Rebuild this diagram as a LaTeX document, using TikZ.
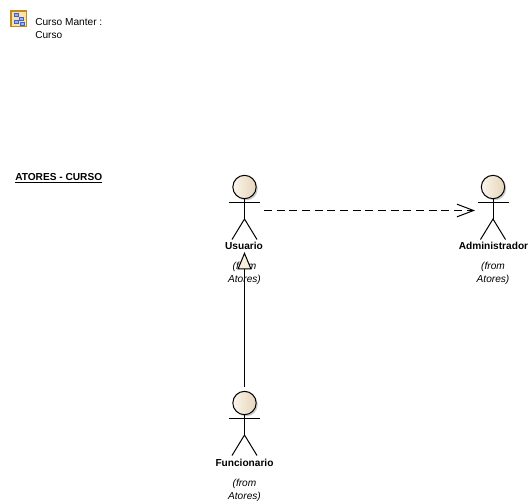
\documentclass[tikz,border=0pt]{standalone}
\usepackage{fontspec}
\setmainfont{Liberation Sans}
\usetikzlibrary{calc,positioning,arrows.meta,shadows}
\definecolor{headfill}{HTML}{F7EEDF}
\definecolor{headedge}{HTML}{E6D5BA}
\definecolor{iconfill}{HTML}{FBE3A8}
\definecolor{iconedge}{HTML}{C08A1E}
\definecolor{iconblue}{HTML}{3A62D8}

\begin{document}
\begin{tikzpicture}[
            x=0.75pt,y=-0.75pt,
            every node/.append style={black,font=\fontsize{7.6}{9.75}\selectfont},
            limb/.style={black,line width=0.75pt},
            head/.style={circle,draw=black,line width=0.75pt,minimum size=17.5pt,inner sep=0pt,
                left color=headfill!60!white,right color=headedge,
                drop shadow={shadow xshift=1.2pt,shadow yshift=-1.2pt,opacity=0.35,fill=black!60}},
            actorname/.style={font=\fontsize{7.6}{9.75}\selectfont\bfseries},
            fromline/.style={font=\fontsize{7.6}{9.75}\selectfont\itshape},
            iconbit/.style={draw=iconblue,fill=iconblue!50!white,line width=0.4pt}
        ]
            \useasboundingbox (0,0) rectangle (531,500);

            % package icon and its title
            \node[draw=iconedge,fill=iconfill,line width=1pt,minimum size=11.5pt,inner sep=0pt] (icon) at (18.5,18.5) {};
            \draw[iconbit] (14,13) rectangle (18,16);
            \draw[iconbit] (19,17) rectangle (23,20);
            \draw[iconbit] (14,20) rectangle (18,23);
            \draw[iconbit] (20,22) rectangle (24,25);
            \node[anchor=west,align=left,inner sep=0pt] (title) at (35,28.5) {Curso Manter :\\Curso};

            \node[anchor=west,inner sep=0pt,font=\fontsize{7.6}{9.75}\selectfont\bfseries] (diagram) at (15,178.5) {\underline{ATORES - CURSO}};

            % the three actors
            \foreach \who/\cx/\cy in {usuario/244.5/187, administrador/493/187, funcionario/244.5/403}{
                \node[head] (\who) at (\cx,\cy) {};
                \coordinate (\who neck) at (\cx,\cy+11);
                \coordinate (\who hip) at (\cx,\cy+32);
                \draw[limb] (\who neck) -- (\who hip);
                \draw[limb] (\cx-15.5,\cy+15.5) -- (\cx+15.5,\cy+15.5);
                \draw[limb] (\cx-12.5,\cy+52.5) -- (\who hip) -- (\cx+12.5,\cy+52.5);
            }

            \node[actorname] (usuarioname) at (244,245.5) {Usuario};
            \node[fromline,align=center] (usuariofrom) at (244.5,273) {(from\\Atores)};
            \node[actorname] (administradorname) at (493.5,245.5) {Administrador};
            \node[fromline,align=center] (administradorfrom) at (493,273) {(from\\Atores)};
            \node[actorname] (funcionarioname) at (244.5,463) {Funcionario};
            \node[fromline,align=center] (funcionariofrom) at (244.5,490) {(from\\Atores)};

            % connectors
            \coordinate (dashstart) at (264,210.5);
            \coordinate (dashend) at (475,210.5);
            \coordinate (genstart) at (244.5,387);
            \coordinate (genend) at (244.5,252);

            \draw[limb,dashed,dash pattern=on 6pt off 3.5pt,-{Straight Barb[length=12.5pt,width=9.5pt,line width=0.75pt]}] (dashstart) -- (dashend);
            \draw[limb,-{Triangle[length=13pt,width=10.5pt,fill=headfill,line width=0.75pt]}] (genstart) -- (genend);
        \end{tikzpicture}
\end{document}
